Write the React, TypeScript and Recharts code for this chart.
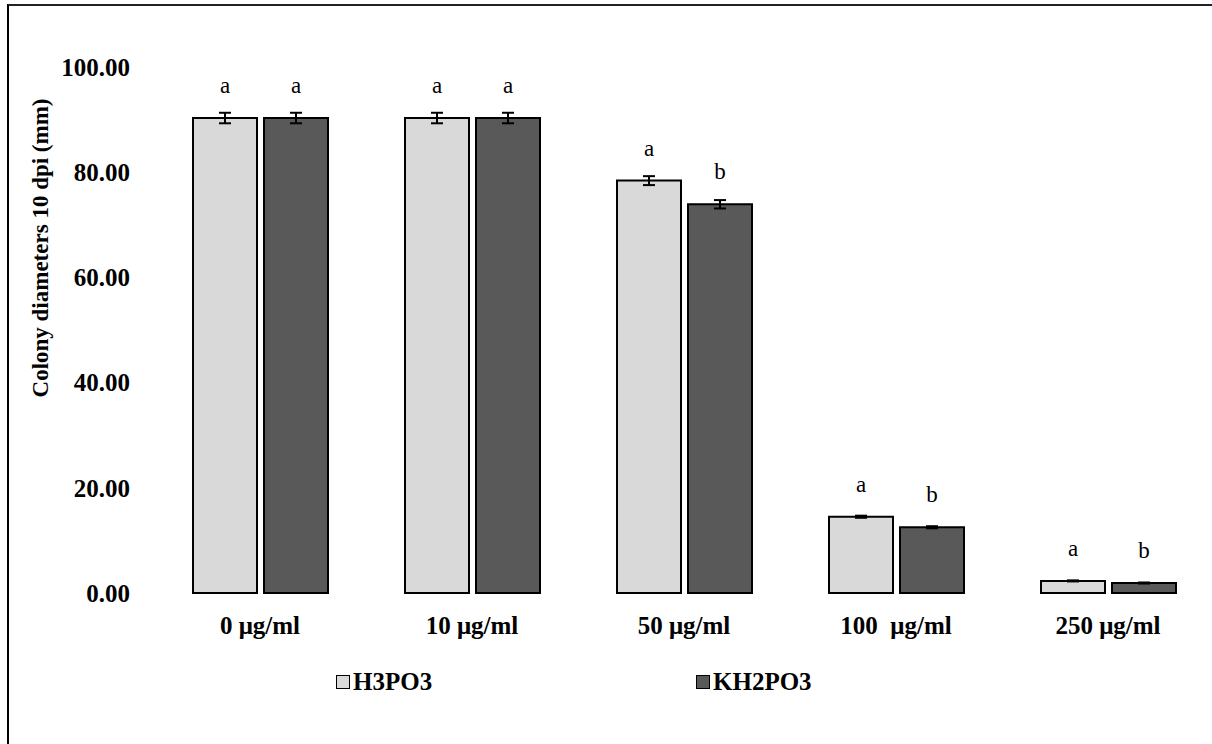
import React from 'react'
import { BarChart, Bar, XAxis, YAxis, ErrorBar, LabelList } from 'recharts'

// concentrations on the x axis
const doses = ['0 μg/ml', '10 μg/ml', '50 μg/ml', '100\u00A0 μg/ml', '250 μg/ml']

// colony diameters (mm)
const h3po3 = [90.3, 90.3, 78.4, 14.5, 2.3]
const kh2po3 = [90.3, 90.3, 73.9, 12.5, 1.9]
const h3po3Err = [1.0, 1.0, 0.85, 0.2, 0.1]
const kh2po3Err = [1.0, 1.0, 0.8, 0.2, 0.1]

// significance letters
const h3po3Letters = ['a', 'a', 'a', 'a', 'a']
const kh2po3Letters = ['a', 'a', 'b', 'b', 'b']

const yTicks = [0, 20, 40, 60, 80, 100]

const series = [
  { key: 'h3po3', name: 'H3PO3', color: '#d9d9d9' },
  { key: 'kh2po3', name: 'KH2PO3', color: '#595959' },
]

const data = doses.map((dose, i) => ({
  dose,
  h3po3: h3po3[i],
  kh2po3: kh2po3[i],
  h3po3Err: h3po3Err[i],
  kh2po3Err: kh2po3Err[i],
  h3po3Letter: h3po3Letters[i],
  kh2po3Letter: kh2po3Letters[i],
}))

const FONT = 'Liberation Serif, Times New Roman, serif'

const LetterLabel = (props: any) => {
  const { x, y, width, value } = props
  return (
    <text
      x={x + width / 2}
      y={y - 25}
      textAnchor="middle"
      fontFamily={FONT}
      fontSize={23}
      fill="#000"
    >
      {value}
    </text>
  )
}

const YLabel = () => (
  <text
    x={40}
    y={248}
    transform="rotate(-90 40 248)"
    textAnchor="middle"
    dominantBaseline="central"
    fontFamily={FONT}
    fontWeight="bold"
    fontSize={23}
    fill="#000"
  >
    Colony diameters 10 dpi (mm)
  </text>
)

export default function App() {
  return (
    <div
      style={{
        position: 'absolute',
        left: 0,
        top: 0,
        width: 1212,
        height: 744,
        overflow: 'hidden',
        background: '#fff',
      }}
    >
      <div
        style={{
          position: 'absolute',
          left: 7,
          top: 4,
          width: 1300,
          height: 800,
          borderLeft: '2px solid #000',
          borderTop: '2px solid #222',
        }}
      />
      <BarChart
        width={1230}
        height={744}
        data={data}
        margin={{ top: 67, right: 16, bottom: 91, left: 0 }}
        barSize={64}
        barGap={7}
        style={{ position: 'absolute', left: 0, top: 0 }}
      >
        <XAxis
          dataKey="dose"
          axisLine={false}
          tickLine={false}
          tickSize={0}
          tickMargin={23}
          height={60}
          interval={0}
          tick={{ fontFamily: FONT, fontWeight: 'bold', fontSize: 25, fill: '#000' }}
        />
        <YAxis
          width={154}
          domain={[0, 100]}
          ticks={yTicks}
          axisLine={false}
          tickLine={false}
          tickSize={0}
          tickMargin={24}
          tickFormatter={(v: number) => v.toFixed(2)}
          tick={{ fontFamily: FONT, fontWeight: 'bold', fontSize: 25, fill: '#000' }}
          label={<YLabel />}
        />
        {series.map((s) => (
          <Bar
            key={s.key}
            dataKey={s.key}
            name={s.name}
            fill={s.color}
            stroke="#000"
            strokeWidth={2}
            isAnimationActive={false}
          >
            <ErrorBar
              dataKey={`${s.key}Err`}
              width={6}
              stroke="#000"
              strokeWidth={2}
              direction="y"
            />
            <LabelList dataKey={`${s.key}Letter`} content={<LetterLabel />} />
          </Bar>
        ))}
      </BarChart>
      {series.map((s, i) => (
        <div
          key={s.key}
          style={{
            position: 'absolute',
            left: 336 + i * 360,
            top: 668,
            display: 'flex',
            alignItems: 'center',
            fontFamily: FONT,
            fontWeight: 'bold',
            fontSize: 25,
            color: '#000',
          }}
        >
          <span
            style={{
              display: 'inline-block',
              width: 12,
              height: 12,
              background: s.color,
              border: '1px solid #000',
              marginRight: 3,
            }}
          />
          {s.name}
        </div>
      ))}
    </div>
  )
}
